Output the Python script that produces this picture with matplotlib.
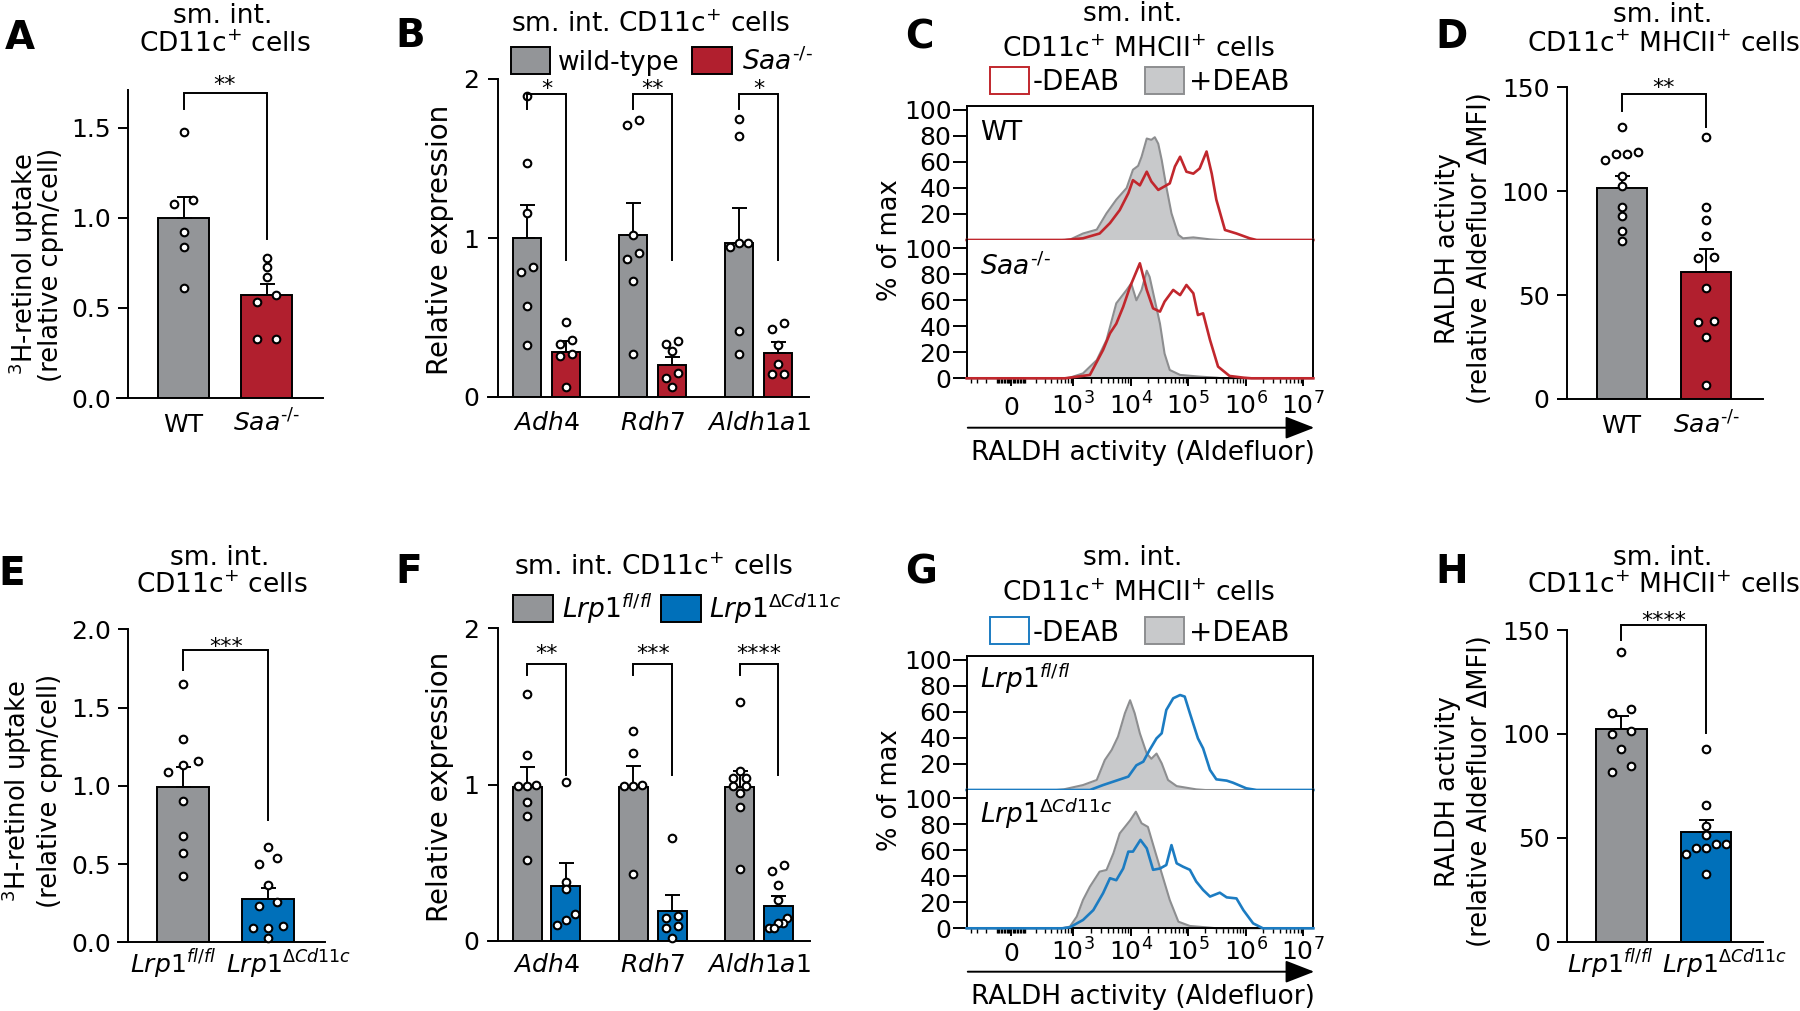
import numpy as np
import matplotlib.pyplot as plt
import matplotlib.transforms as mtransforms
from matplotlib.patches import Rectangle, FancyArrowPatch

plt.rcParams['font.family'] = ['DejaVu Sans']
plt.rcParams['mathtext.fontset'] = 'dejavusans'
plt.rcParams['axes.linewidth'] = 1.4

W, H = 1800, 1011

# colours
GRAY = '#939598'
RED = '#B11F2E'
BLUE = '#0070BA'
HIST_FILL = '#C8C9CB'
HIST_EDGE = '#8D8E90'
RED_LINE = '#C1272D'
BLUE_LINE = '#1C7CC2'

SAA_LBL = r'$\mathit{Saa}^{\text{-/-}}$'
FL_LBL = r'$\mathit{Lrp1}^{\mathit{fl/fl}}$'
DEL_LBL = r'$\mathit{Lrp1}^{\Delta \mathit{Cd11c}}$'

# ---------------- data ----------------
# A: 3H-retinol uptake, WT vs Saa-/-
a_wt = [1.48, 1.10, 1.08, 0.92, 0.84, 0.61]
a_ko = [0.78, 0.73, 0.67, 0.57, 0.535, 0.33, 0.33]
a_mean = [1.00, 0.57]
a_sem = [0.115, 0.065]

# B: relative expression, wild-type vs Saa-/-
genes = ['Adh4', 'Rdh7', 'Aldh1a1']
b_wt = [[1.89, 1.47, 1.16, 0.82, 0.785, 0.57, 0.33],
        [1.745, 1.71, 1.02, 0.905, 0.865, 0.73, 0.27],
        [1.75, 1.64, 0.97, 0.97, 0.945, 0.415, 0.27]]
b_ko = [[0.47, 0.36, 0.335, 0.27, 0.26, 0.065],
        [0.355, 0.335, 0.29, 0.15, 0.12, 0.06],
        [0.465, 0.43, 0.33, 0.205, 0.142, 0.142]]
b_wt_mean = [1.00, 1.017, 0.966]
b_wt_sem = [0.21, 0.206, 0.224]
b_ko_mean = [0.28, 0.20, 0.274]
b_ko_sem = [0.07, 0.054, 0.069]

# D: RALDH activity, WT vs Saa-/-
d_wt = [131, 119, 118, 118, 115, 107.5, 102.5, 92.5, 88, 81, 76]
d_ko = [126, 92.5, 86, 78.5, 68.5, 68, 53.5, 37.5, 37, 30, 6.5]
d_mean = [101.5, 61]
d_sem = [6, 11]

# E: 3H-retinol uptake, Lrp1 fl/fl vs dCd11c
e_wt = [1.65, 1.30, 1.16, 1.13, 1.09, 0.90, 0.68, 0.57, 0.425]
e_ko = [0.61, 0.54, 0.50, 0.365, 0.26, 0.23, 0.105, 0.093, 0.093, 0.025]
e_mean = [0.99, 0.276]
e_sem = [0.127, 0.069]

# F: relative expression, Lrp1 fl/fl vs dCd11c
f_wt = [[1.58, 1.19, 0.995, 0.993, 0.99, 0.89, 0.80, 0.52],
        [1.34, 1.205, 0.995, 0.993, 0.99, 0.43],
        [1.53, 1.088, 1.04, 1.04, 0.993, 0.993, 0.945, 0.86, 0.46]]
f_ko = [[1.02, 0.38, 0.33, 0.17, 0.135, 0.10],
        [0.66, 0.16, 0.145, 0.095, 0.085, 0.02],
        [0.485, 0.445, 0.355, 0.265, 0.15, 0.115, 0.115, 0.08, 0.08]]
f_wt_mean = [0.986, 0.986, 0.986]
f_wt_sem = [0.128, 0.134, 0.102]
f_ko_mean = [0.354, 0.192, 0.224]
f_ko_sem = [0.142, 0.102, 0.064]

# H: RALDH activity, Lrp1 fl/fl vs dCd11c
h_wt = [139.5, 112, 110, 101.5, 100, 92.5, 84.5, 81.5]
h_ko = [92.5, 66, 55.5, 51.5, 47, 47, 45, 45, 42, 32.5]
h_mean = [102.4, 52.6]
h_sem = [6.2, 5.9]

# C / G: Aldefluor histograms (x = log10 fluorescence, y = % of max)
c_wt_deab_x = [2.80, 2.95, 3.17, 3.41, 3.58, 3.75, 3.93, 4.04, 4.13, 4.19, 4.28, 4.36,
               4.42, 4.48, 4.54, 4.62, 4.71, 4.83, 4.91, 5.09, 5.38, 5.55]
c_wt_deab_y = [0, 0.5, 5, 8, 20.5, 31, 40, 54, 57, 64, 78, 77, 79, 74, 61.5, 41, 20.5,
               4, 1.3, 2, 0.5, 0]
c_wt_x = [2.85, 3.17, 3.46, 3.64, 3.81, 3.96, 4.04, 4.16, 4.28, 4.36, 4.48, 4.68, 4.77,
          4.86, 4.97, 5.09, 5.20, 5.32, 5.41, 5.49, 5.64, 5.84, 6.07, 6.19]
c_wt_y = [0, 1.3, 5, 13, 23, 36, 46, 42, 52.5, 45, 38.5, 43.5, 56.5, 64, 52.5, 51, 55,
          68, 51, 31, 7.7, 5, 1.3, 0]
c_ko_deab_x = [2.85, 2.94, 3.17, 3.41, 3.58, 3.75, 3.93, 4.01, 4.10, 4.19, 4.28, 4.33,
               4.42, 4.51, 4.59, 4.68, 4.86, 5.20, 5.49, 5.60]
c_ko_deab_y = [0, 0.5, 3.8, 14, 29.5, 57.7, 68, 73, 60, 68, 82.8, 78, 60, 42, 19, 6.4,
               2.6, 1.3, 0.5, 0]
c_ko_x = [2.85, 2.94, 3.29, 3.52, 3.64, 3.75, 3.87, 3.99, 4.16, 4.28, 4.39, 4.51, 4.59,
          4.74, 4.86, 4.97, 5.09, 5.17, 5.26, 5.38, 5.52, 5.72, 5.96, 6.10]
c_ko_y = [0, 0.5, 2.6, 21.8, 34.6, 42, 55, 70.5, 88.5, 68, 53.8, 51.3, 59, 68, 64, 71.8,
          65.4, 48.7, 50, 29.5, 9, 1.8, 0.5, 0]

g_fl_deab_x = [2.70, 2.83, 3.17, 3.41, 3.55, 3.67, 3.78, 3.90, 3.99, 4.07, 4.16, 4.28,
               4.36, 4.45, 4.54, 4.65, 4.80, 5.14, 5.30]
g_fl_deab_y = [0, 0.5, 3.8, 7.7, 23, 30.8, 41, 59, 69, 59, 43.6, 28, 24, 28, 20.5, 7.7,
               3, 0.5, 0]
g_fl_x = [3.29, 3.52, 3.75, 3.96, 4.10, 4.22, 4.33, 4.45, 4.54, 4.62, 4.74, 4.86, 4.94,
          5.03, 5.17, 5.26, 5.38, 5.49, 5.67, 5.78, 6.01, 6.19]
g_fl_y = [0, 3.8, 7.2, 10.3, 19, 21.8, 30.8, 39.7, 43.6, 61.5, 70.5, 73, 71.8, 59, 39.7,
          32, 15.4, 8.2, 7.2, 5.6, 1.3, 0]
g_del_deab_x = [2.80, 2.94, 3.06, 3.17, 3.29, 3.46, 3.58, 3.70, 3.81, 3.99, 4.09, 4.19,
                4.30, 4.42, 4.54, 4.68, 4.83, 5.03, 5.38, 5.50]
g_del_deab_y = [0, 1.3, 9, 21.8, 32, 43.6, 44.9, 57.7, 73, 83, 89.7, 80.8, 78, 60, 42.3,
                21.8, 5.1, 1.8, 0.5, 0]
g_del_x = [2.80, 2.94, 3.17, 3.35, 3.52, 3.64, 3.75, 3.87, 3.96, 4.04, 4.17, 4.28, 4.39,
           4.51, 4.62, 4.71, 4.80, 4.91, 5.03, 5.14, 5.26, 5.38, 5.55, 5.67, 5.84, 5.96,
           6.13, 6.30]
g_del_y = [0, 0.8, 6.4, 14, 27, 38.5, 37, 46, 59, 59, 68, 61.5, 45, 46, 48.7, 64, 50,
           47.4, 45, 36, 29.5, 24.4, 27.4, 23.8, 23, 14, 3.8, 0]

hist_major = [0, 1e3, 1e4, 1e5, 1e6, 1e7]
hist_major_lbl = ['0', r'$10^{3}$', r'$10^{4}$', r'$10^{5}$', r'$10^{6}$', r'$10^{7}$']

# ---------------- helpers ----------------
fig = plt.figure(figsize=(W / 100, H / 100), dpi=100)


def px_axes(x0, y0, x1, y1):
    return fig.add_axes([x0 / W, 1 - y1 / H, (x1 - x0) / W, (y1 - y0) / H])


def ftext(x, y, s, **kw):
    kw.setdefault('va', 'baseline')
    return fig.text(x / W, 1 - y / H, s, **kw)


def fbox(x0, y0, x1, y1, **kw):
    fig.add_artist(Rectangle((x0 / W, 1 - y1 / H), (x1 - x0) / W, (y1 - y0) / H,
                             transform=fig.transFigure, **kw))


def swarm(vals, ppu, sp, maxw, thresh=7.0):
    # spread near-equal values side by side (pixel offsets), GraphPad-like rows
    vals = np.asarray(vals, float)
    order = np.argsort(vals)
    offs = np.zeros(len(vals))
    groups, cur = [], [order[0]]
    for a, b in zip(order[:-1], order[1:]):
        if (vals[b] - vals[a]) * ppu < thresh:
            cur.append(b)
        else:
            groups.append(cur)
            cur = [b]
    groups.append(cur)
    for g in groups:
        n = len(g)
        if n > 1:
            step = min(sp, maxw / (n - 1))
            for k, i in enumerate(g):
                offs[i] = (k - (n - 1) / 2) * step
    return offs


def bar_axes(box, origin, ppx, spine_x, ylim, yticks, ylabels, pad):
    x0, y0, x1, y1 = box
    ax = px_axes(x0, y0, x1, y1)
    ax.set_xlim((x0 - origin) / ppx, (x1 - origin) / ppx)
    ax.set_ylim(*ylim)
    ax.patch.set_alpha(0)
    ax.spines[['top', 'right']].set_visible(False)
    ax.spines['left'].set_position(('data', (spine_x - origin) / ppx))
    ax.set_xticks([])
    ax.set_yticks(yticks, ylabels)
    ax.tick_params(axis='y', length=7, width=1.4, pad=pad, labelsize=18)
    ppu = (y1 - y0) / (ylim[1] - ylim[0])
    return ax, ppu


def draw_group(ax, x, mean, sem, pts, color, width, ppu, ppx, sp, maxw):
    ax.bar(x, mean, width, color=color, edgecolor='black', linewidth=1.4, zorder=2)
    ax.errorbar(x, mean, yerr=[[0], [sem]], fmt='none', ecolor='black',
                elinewidth=1.4, capsize=5.4, capthick=1.4, zorder=3)
    offs = swarm(pts, ppu, sp, maxw) / ppx
    ax.scatter(x + offs, pts, s=30, facecolor='white', edgecolor='black',
               linewidth=1.5, zorder=4, clip_on=False)


def bracket(ax, xl, xr, yl, ytop, yr, stars, off):
    ax.plot([xl, xl, xr, xr], [yl, ytop, ytop, yr], color='black', lw=1.4,
            clip_on=False, zorder=5, solid_joinstyle='miter')
    ax.annotate(stars, ((xl + xr) / 2, ytop), xytext=(0, off),
                textcoords='offset points', ha='center', va='baseline',
                fontsize=16, annotation_clip=False)


def cat_label(ax, x, ypx, s, dx=0):
    tr = mtransforms.blended_transform_factory(ax.transData, fig.transFigure)
    tr = tr + mtransforms.ScaledTranslation(dx / 100, 0, fig.dpi_scale_trans)
    ax.text(x, 1 - ypx / H, s, transform=tr, ha='center', va='baseline',
            fontsize=18)


A_BIEX = 166.0
ZERO_PX, DEC_PX = 1011.0, 57.5


def fwd(v):
    return np.arcsinh(np.asarray(v, float) / A_BIEX) / np.log(10)


def inv(u):
    return A_BIEX * np.sinh(np.asarray(u, float) * np.log(10))


hist_minor = ([-400, -300, -200, -100] + [s * k for s in (-1, 1) for k in range(10, 100, 10)]
              + [k * 10 ** d for d in range(2, 7) for k in range(1, 10) if not (k == 1 and d > 2)])


def hist_panel(x0, x1, y_top, y_mid, y_bot, curves, line_color, lbl_base):
    xmin, xmax = inv((x0 - ZERO_PX) / DEC_PX), inv((x1 - ZERO_PX) / DEC_PX)
    specs = [(y_top, y_mid, 103.0, [20, 40, 60, 80, 100]),
             (y_mid, y_bot, 106.4, [0, 20, 40, 60, 80, 100])]
    for k, (ya, yb, ymax, yt) in enumerate(specs):
        ax = px_axes(x0, ya, x1, yb)
        ax.set_xscale('function', functions=(fwd, inv))
        ax.set_xlim(xmin, xmax)
        ax.set_ylim(0, ymax)
        ax.set_yticks(yt, [str(t) for t in yt])
        ax.tick_params(axis='y', length=10, width=1.4, pad=1, labelsize=18)
        gx, gy, lx, ly = curves[k]
        gxs = np.concatenate([[xmin], 10 ** np.array(gx), [xmax]])
        gys = np.concatenate([[0], gy, [0]])
        lxs = np.concatenate([[xmin], 10 ** np.array(lx), [xmax]])
        lys = np.concatenate([[0], ly, [0]])
        ax.fill_between(gxs, gys, color=HIST_FILL, lw=0, zorder=1)
        ax.plot(gxs, gys, color=HIST_EDGE, lw=1.5, zorder=2, clip_on=False)
        ax.plot(lxs, lys, color=line_color, lw=1.9, zorder=3, clip_on=False)
        if k == 0:
            ax.spines['bottom'].set_visible(False)
            ax.set_xticks([])
            ax.set_xticks([], minor=True)
        else:
            ax.spines['top'].set_visible(False)
            ax.set_xticks(hist_major, [''] * len(hist_major))
            ax.set_xticks(hist_minor, minor=True)
            ax.tick_params(axis='x', which='major', length=6, width=1.4)
            ax.tick_params(axis='x', which='minor', length=3.5, width=1.0)
            for v, s in zip(hist_major, hist_major_lbl):
                cat_label(ax, v, lbl_base, s)


# ---------------- A ----------------
ax, ppu = bar_axes((117, 90, 323, 398), 183.5, 83, 128, (0, 1.711),
                   [0, 0.5, 1, 1.5], ['0.0', '0.5', '1.0', '1.5'], 5.5)
draw_group(ax, 0, a_mean[0], a_sem[0], a_wt, GRAY, 51 / 83, ppu, 83, 18.5, 37)
draw_group(ax, 1, a_mean[1], a_sem[1], a_ko, RED, 51 / 83, ppu, 83, 18.5, 37)
bracket(ax, 0, 1, 1.606, 1.694, 0.883, '**', 1.5)
cat_label(ax, 0, 431.7, 'WT')
cat_label(ax, 1, 431.7, SAA_LBL)

# ---------------- B ----------------
ax, ppu = bar_axes((488, 79, 809, 397), 546.5, 106, 498.3, (0, 2),
                   [0, 1, 2], ['0', '1', '2'], 7)
for i, g in enumerate(genes):
    draw_group(ax, i - 0.182, b_wt_mean[i], b_wt_sem[i], b_wt[i], GRAY, 0.267, ppu, 106, 12.5, 18)
    draw_group(ax, i + 0.182, b_ko_mean[i], b_ko_sem[i], b_ko[i], RED, 0.267, ppu, 106, 12.5, 18)
    cat_label(ax, i, 430, r'$\mathit{%s}$' % g)
for i, st in enumerate(['*', '**', '*']):
    bracket(ax, i - 0.182, i + 0.182, 1.81, 1.905, 0.86, st, -1)

# ---------------- D ----------------
ax, ppu = bar_axes((1558.3, 87.3, 1762.7, 399), 1621.7, 84.6, 1566.7, (0, 150),
                   [0, 50, 100, 150], ['0', '50', '100', '150'], 5.5)
draw_group(ax, 0, d_mean[0], d_sem[0], d_wt, GRAY, 50 / 84.6, ppu, 84.6, 16, 33)
draw_group(ax, 1, d_mean[1], d_sem[1], d_ko, RED, 50 / 84.6, ppu, 84.6, 16, 33)
bracket(ax, 0, 1, 138.6, 146.6, 131, '**', 0)
cat_label(ax, 0, 433.3, 'WT')
cat_label(ax, 1, 433.3, SAA_LBL)

# ---------------- E ----------------
ax, ppu = bar_axes((118.3, 629.3, 325, 942.3), 183.2, 85, 128.3, (0, 2),
                   [0, 0.5, 1, 1.5, 2], ['0.0', '0.5', '1.0', '1.5', '2.0'], 5.5)
draw_group(ax, 0, e_mean[0], e_sem[0], e_wt, GRAY, 51.7 / 85, ppu, 85, 18.5, 30)
draw_group(ax, 1, e_mean[1], e_sem[1], e_ko, BLUE, 51.7 / 85, ppu, 85, 18.5, 30)
bracket(ax, 0, 1, 1.74, 1.867, 0.782, '***', -2)
cat_label(ax, 0, 973.3, FL_LBL, dx=-10)
cat_label(ax, 1, 973.3, DEL_LBL, dx=20)

# ---------------- F ----------------
ax, ppu = bar_axes((488.3, 628.3, 810, 941), 546.5, 106.2, 498.3, (0, 2),
                   [0, 1, 2], ['0', '1', '2'], 7)
for i, g in enumerate(genes):
    draw_group(ax, i - 0.182, f_wt_mean[i], f_wt_sem[i], f_wt[i], GRAY, 0.273, ppu, 106.2, 12.5, 18)
    draw_group(ax, i + 0.182, f_ko_mean[i], f_ko_sem[i], f_ko[i], BLUE, 0.273, ppu, 106.2, 12.5, 18)
    cat_label(ax, i, 971.7, r'$\mathit{%s}$' % g)
for i, st in enumerate(['**', '***', '****']):
    bracket(ax, i - 0.182, i + 0.182, 1.70, 1.77, 1.06, st, 3)

# ---------------- H ----------------
ax, ppu = bar_axes((1558.3, 630, 1762.7, 941.7), 1621.3, 84.7, 1567.3, (0, 150),
                   [0, 50, 100, 150], ['0', '50', '100', '150'], 5.5)
draw_group(ax, 0, h_mean[0], h_sem[0], h_wt, GRAY, 50.7 / 84.7, ppu, 84.7, 19, 40)
draw_group(ax, 1, h_mean[1], h_sem[1], h_ko, BLUE, 50.7 / 84.7, ppu, 84.7, 19, 40)
bracket(ax, 0, 1, 145.2, 152.3, 100.3, '****', -1)
cat_label(ax, 0, 973.3, FL_LBL, dx=-11)
cat_label(ax, 1, 973.3, DEL_LBL, dx=19)

# ---------------- C / G histograms ----------------
hist_panel(966.7, 1313.3, 106, 240, 378.3,
           [(c_wt_deab_x, c_wt_deab_y, c_wt_x, c_wt_y),
            (c_ko_deab_x, c_ko_deab_y, c_ko_x, c_ko_y)], RED_LINE, 415)
hist_panel(966.7, 1313.3, 656, 790, 928.3,
           [(g_fl_deab_x, g_fl_deab_y, g_fl_x, g_fl_y),
            (g_del_deab_x, g_del_deab_y, g_del_x, g_del_y)], BLUE_LINE, 960.7)

for yarr, ylab in [(427.7, 460), (971.7, 1004)]:
    fig.add_artist(FancyArrowPatch((965 / W, 1 - yarr / H), (1317 / W, 1 - yarr / H),
                                   transform=fig.transFigure,
                                   arrowstyle='-|>,head_length=0.9,head_width=0.35',
                                   mutation_scale=20, lw=1.4, color='black'))
    ftext(1143, ylab, 'RALDH activity (Aldefluor)', ha='center', fontsize=19)

ftext(980, 140, 'WT', fontsize=19)
ftext(980, 275, SAA_LBL, fontsize=19)
ftext(980, 688.3, FL_LBL, fontsize=19)
ftext(980, 823.3, DEL_LBL, fontsize=19)

# ---------------- legends ----------------
fbox(510.7, 46.7, 550, 74, facecolor=GRAY, edgecolor='black', lw=1.4)
ftext(558, 70, 'wild-type', fontsize=19)
fbox(692, 46.7, 732, 74, facecolor=RED, edgecolor='black', lw=1.4)
ftext(741.7, 70, SAA_LBL, fontsize=19)

fbox(512.7, 595, 552.7, 622.3, facecolor=GRAY, edgecolor='black', lw=1.4)
ftext(561.7, 618.3, FL_LBL, fontsize=19)
fbox(660.7, 595, 700.7, 622.3, facecolor=BLUE, edgecolor='black', lw=1.4)
ftext(709.3, 618.3, DEL_LBL, fontsize=19)

for y0, col in [(66.7, RED_LINE), (617.3, BLUE_LINE)]:
    fbox(989.5, y0, 1029, y0 + 27, facecolor='white', edgecolor=col, lw=1.4)
    ftext(1033, y0 + 23.3, '-DEAB', fontsize=20)
    fbox(1145, y0, 1184, y0 + 27, facecolor=HIST_FILL, edgecolor=HIST_EDGE, lw=1.4)
    ftext(1189, y0 + 23.3, '+DEAB', fontsize=20)

# ---------------- titles, panel letters, axis labels ----------------
for x, y, s in [(5, 49.3, 'A'), (395, 46.7, 'B'), (905, 48.3, 'C'), (1435, 48.3, 'D'),
                (-2, 585, 'E'), (395, 583.3, 'F'), (905, 583.3, 'G'), (1435, 583.3, 'H')]:
    ftext(x, y, s, fontsize=28, fontweight='bold')

CD11 = r'CD11c$^{+}$ cells'
MHC = r'CD11c$^{+}$ MHCII$^{+}$ cells'
for x, y, s in [(223, 22.7, 'sm. int.'), (225, 51.7, CD11),
                (650, 31.7, r'sm. int. CD11c$^{+}$ cells'),
                (1133, 20.7, 'sm. int.'), (1138, 56.7, MHC),
                (1663, 21.7, 'sm. int.'), (1663, 51.7, MHC),
                (220, 565, 'sm. int.'), (222, 593.3, CD11),
                (653.3, 575, r'sm. int. CD11c$^{+}$ cells'),
                (1133, 565, 'sm. int.'), (1138, 600.7, MHC),
                (1663, 565, 'sm. int.'), (1663, 593.3, MHC)]:
    ftext(x, y, s, ha='center', fontsize=19)

for x, y, s, fs in [(24, 264, r'$^{3}$H-retinol uptake', 18.5),
                    (51, 265, '(relative cpm/cell)', 18.5),
                    (17, 791, r'$^{3}$H-retinol uptake', 18.5),
                    (50, 791, '(relative cpm/cell)', 18.5),
                    (1448, 249, 'RALDH activity', 18.5),
                    (1480, 248, '(relative Aldefluor ΔMFI)', 18.5),
                    (1448, 792, 'RALDH activity', 18.5),
                    (1480, 791, '(relative Aldefluor ΔMFI)', 18.5),
                    (440, 240, 'Relative expression', 20),
                    (440, 787, 'Relative expression', 20),
                    (890, 240, '% of max', 18.5),
                    (890, 790, '% of max', 18.5)]:
    ftext(x, y, s, ha='center', va='center', rotation=90, fontsize=fs)

fig.savefig('out.png', dpi=100)
